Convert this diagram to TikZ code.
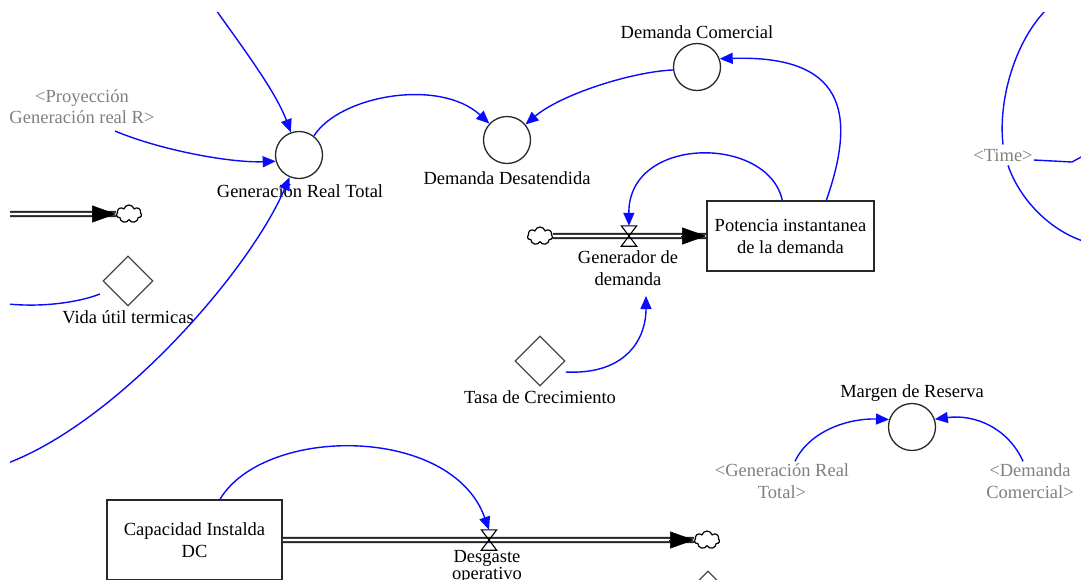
\documentclass[tikz,border=0pt]{standalone}
\usepackage{fontspec}
\setmainfont{Liberation Serif}
\usetikzlibrary{shapes.geometric,shapes.symbols,arrows.meta,calc}

\definecolor{linkblue}{RGB}{10,10,255}
\definecolor{shadowgray}{RGB}{128,128,128}
\definecolor{edgegray}{RGB}{40,40,40}

\begin{document}
\begin{tikzpicture}[x=1pt,y=-1pt,
  every node/.style={font=\fontsize{18.5}{22}\selectfont, inner sep=0pt},
  auxvar/.style={circle, draw=edgegray, line width=1.3pt, minimum size=47pt},
  constvar/.style={diamond, aspect=1, draw=edgegray!85, line width=1.2pt, minimum width=50pt, minimum height=50pt},
  level/.style={rectangle, draw=edgegray, line width=1.7pt, align=center},
  lbl/.style={align=center, text=black},
  shadow/.style={align=center, text=shadowgray},
  source/.style={cloud, cloud puffs=7, draw=black, line width=1.2pt, minimum width=25pt, minimum height=18pt, fill=white},
  valve/.style={minimum width=15pt, minimum height=20pt},
  valveline/.style={draw=black, line width=1.1pt},
  pipe/.style={draw=black!85, line width=1.9pt, double=white, double distance=2.4pt},
  pipetip/.style={-{Triangle[length=24pt,width=17pt]}, line width=0.5pt, black},
  link/.style={draw=linkblue, line width=1.4pt, -{Triangle[length=13pt,width=11pt]}},
  plainlink/.style={draw=linkblue, line width=1.4pt},
]
\useasboundingbox (0,0) rectangle (1081,579);
\fill[white] (0,0) rectangle (1081,579);
\clip (10,12) rectangle (1081,579);

% ---------- variables ----------
\node[auxvar] (gen) at (299,155) {};
\node[lbl] (genlab) at (300,191) {Generación Real Total};
\node[shadow, font=\fontsize{18.5}{21}\selectfont] (proy) at (82,107) {<Proyección\\Generación real R>};

\node[auxvar] (dd) at (507,140) {};
\node[lbl] (ddlab) at (507,178) {Demanda Desatendida};

\node[auxvar] (dc) at (697,67) {};
\node[lbl] (dclab) at (697,32) {Demanda Comercial};

\node[level, minimum width=167pt, minimum height=70pt] (pot) at (790.5,236) {Potencia instantanea\\de la demanda};
\node[source] (cl1) at (540,236) {};
\node[valve] (v1) at (629,236) {};
\node[lbl] (v1lab) at (628,268) {Generador de\\demanda};

\node[constvar] (tasa) at (540,361) {};
\node[lbl] (tasalab) at (540,397) {Tasa de Crecimiento};

\node[source] (cl2) at (129,214) {};
\node[constvar] (vida) at (128,281) {};
\node[lbl] (vidalab) at (128,317) {Vida útil termicas};

\node[shadow, inner sep=4pt] (time) at (1003,155) {<Time>};

\node[auxvar] (mr) at (912,427) {};
\node[lbl] (mrlab) at (912,393) {Margen de Reserva};
\node[shadow] (gr2) at (782,481) {<Generación Real\\Total>};
\node[shadow] (dc2) at (1030,481) {<Demanda\\Comercial>};

\node[level, minimum width=175pt, minimum height=80pt] (cap) at (194.5,540) {Capacidad Instalda\\DC};
\node[valve] (v2) at (489,540) {};
\node[source] (cl3) at (707,540) {};
\node[lbl, font=\fontsize{18.5}{11}\selectfont] (v2lab) at (487,567) {Desgaste\\operativo};
\node[constvar] (lowdiam) at (708,596) {};

% ---------- free ends of links ----------
\coordinate (topin) at (216,10);
\coordinate (proyout) at (115,131);
\coordinate (leftin) at (8,463);
\coordinate (leftpipe) at (8,214);
\coordinate (vidain) at (8,304);
\coordinate (vidaend) at (100,294);
\coordinate (tasaout) at ($(tasa.east)+(0,11)$);
\coordinate (v1labin) at (646,296);
\coordinate (gr2out) at ($(gr2.north)+(13,-2)$);
\coordinate (dc2out) at ($(dc2.north)+(-7,-2)$);
\coordinate (timeup) at (1048,8);
\coordinate (timedown) at (1083,241);
\coordinate (timeright) at (1083,156);

% ---------- flows ----------
\draw[pipe] (leftpipe) -- (cl2.west);
\draw[pipetip] ($(cl2.west)+(-24,0)$) -- (cl2.west);

\draw[pipe] (cl1.east) -- (pot.west);
\draw[pipetip] ($(pot.west)+(-25,0)$) -- (pot.west);

\draw[pipe] (cap.east) -- (cl3.west);
\draw[pipetip] ($(cl3.west)+(-25,0)$) -- (cl3.west);

\draw[valveline] (v1.north west) -- (v1.north east) -- (v1.south west) -- (v1.south east) -- cycle;
\draw[valveline] (v2.north west) -- (v2.north east) -- (v2.south west) -- (v2.south east) -- cycle;

% ---------- links ----------
\draw[link] (topin) .. controls (243,48) and (276,92) .. (gen.110);
\draw[link] (proyout) .. controls (160,150) and (230,163) .. (gen.195);
\draw[link] (leftin) .. controls (120,420) and (250,270) .. (gen.-113);
\draw[link] (gen.52) .. controls (340,95) and (440,78) .. (dd.137);
\draw[link] (dc.187) .. controls (630,72) and (560,95) .. (dd.40);
\draw[link] (pot.45) .. controls (858,110) and (842,55) .. (dc.20);
\draw[link] (pot.103) .. controls (768,135) and (628,135) .. (v1.north);
\draw[link] (tasaout) .. controls (625,375) and (646,340) .. (v1labin);
\draw[plainlink] (vidain) .. controls (50,308) and (85,300) .. (vidaend);
\draw[link] (gr2out) .. controls (810,430) and (850,418) .. (mr.162);
\draw[link] (dc2out) .. controls (1008,428) and (975,414) .. (mr.19);
\draw[link] (cap.58) .. controls (265,425) and (452,425) .. (v2.north);

\draw[plainlink] (time.north) .. controls (998,100) and (1015,40) .. (timeup);
\draw[plainlink] ($(time.south)+(5,0)$) .. controls (1020,200) and (1050,230) .. (timedown);
\draw[plainlink] ($(time.east)+(-3,5)$) -- (1072,162) -- (timeright);
\end{tikzpicture}
\end{document}
